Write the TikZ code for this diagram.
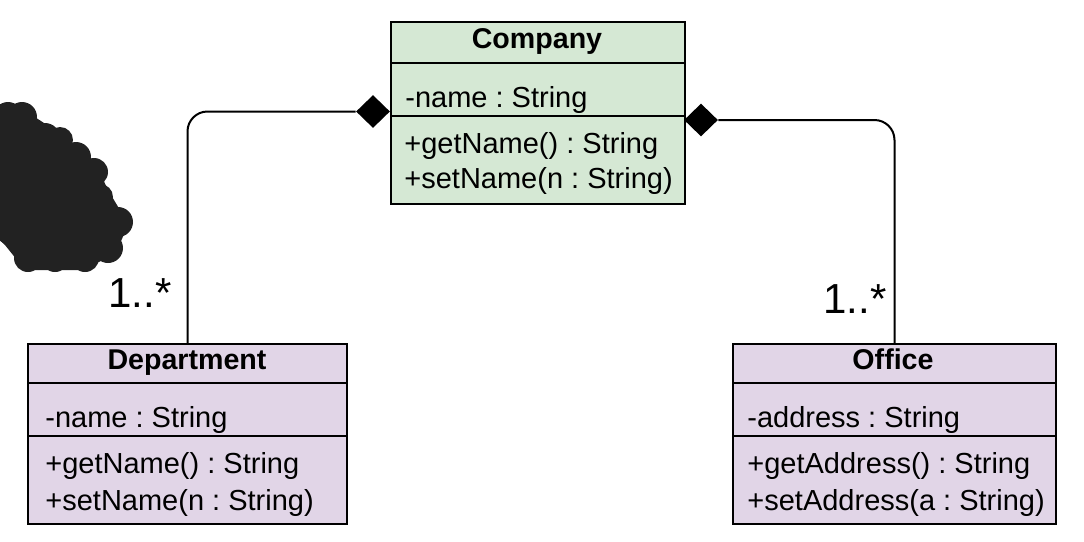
\documentclass[tikz,border=0pt]{standalone}
\usepackage{fontspec}
\setmainfont{Liberation Sans}
\usetikzlibrary{shapes.geometric}
\definecolor{cgreen}{HTML}{D5E8D4}
\definecolor{cpurple}{HTML}{E1D5E7}
\definecolor{blobc}{HTML}{222222}
\frenchspacing
\begin{document}
\begin{tikzpicture}[x=0.5pt,y=-0.5pt,
  box/.style={draw=black, line width=1pt, anchor=north west, inner sep=0pt},
  sep/.style={line width=1pt},
  txt/.style={anchor=base west, inner sep=0pt, font=\fontsize{14.5}{17}\selectfont},
  ttl/.style={anchor=base, inner sep=0pt, font=\fontsize{14.3}{17}\selectfont\bfseries},
  dia/.style={diamond, fill=black, minimum width=17pt, minimum height=16.5pt, inner sep=0pt},
  conn/.style={line width=1pt, rounded corners=10pt},
  mult/.style={anchor=base west, inner sep=0pt, font=\fontsize{21}{24}\selectfont},
  blob/.style={fill=blobc}]
\useasboundingbox (0,0) rectangle (1084,542);

% redaction blob
\fill[blob] (0,108) -- (15,104) -- (47,125) -- (75,145) -- (95,162) -- (108,190) -- (120,210) -- (128,225) -- (115,255) -- (80,270) -- (25,270) -- (5,245) -- (0,240) -- cycle;
\foreach \cx/\cy/\r in {8/117/15, 22/117/15, 45/138/15, 60/140/13, 76/157/15, 94/172/14, 100/197/13, 118/222/15, 108/248/15, 85/258/14, 55/258/14, 28/258/14, 8/232/12, 30/200/30, 60/200/30, 80/220/30}
  \fill[blob] (\cx,\cy) circle[radius=\r];

% Company
\node[box, fill=cgreen, minimum width=147pt, minimum height=91pt] (company) at (390,21) {};
\draw[sep] (company.west |- 0,63) -- (company.east |- 0,63);
\draw[sep] (company.west |- 0,116) -- (company.east |- 0,116);
\node[ttl] (companyname) at (537,48) {Company};
\node[txt] (cattr) at (405,107) {-name : String};
\node[txt] (cm1) at (404,153) {+getName() : String};
\node[txt] (cm2) at (404,188) {+setName(n : String)};

% Department
\node[box, fill=cpurple, minimum width=159.5pt, minimum height=90pt] (dept) at (27,343) {};
\draw[sep] (dept.west |- 0,383) -- (dept.east |- 0,383);
\draw[sep] (dept.west |- 0,436) -- (dept.east |- 0,436);
\node[ttl] (deptname) at (187,369) {Department};
\node[txt] (dattr) at (45,427) {-name : String};
\node[txt] (dm1) at (45,473) {+getName() : String};
\node[txt] (dm2) at (45,510) {+setName(n : String)};

% Office
\node[box, fill=cpurple, minimum width=161.5pt, minimum height=90pt] (office) at (732,343) {};
\draw[sep] (office.west |- 0,383) -- (office.east |- 0,383);
\draw[sep] (office.west |- 0,436) -- (office.east |- 0,436);
\node[ttl] (officename) at (893,369) {Office};
\node[txt] (oattr) at (747,427) {-address : String};
\node[txt] (om1) at (747,473) {+getAddress() : String};
\node[txt] (om2) at (747,510) {+setAddress(a : String)};

% composition diamonds
\node[dia] (ldia) at (373,111.5) {};
\node[dia] (rdia) at (701,120) {};

% connectors
\draw[conn] (ldia.west) -| (dept.north);
\draw[conn] (rdia.east) -| (office.north);

% multiplicities
\node[mult] (lmult) at (108,307) {1..*};
\node[mult] (rmult) at (823,313) {1..*};
\end{tikzpicture}
\end{document}
